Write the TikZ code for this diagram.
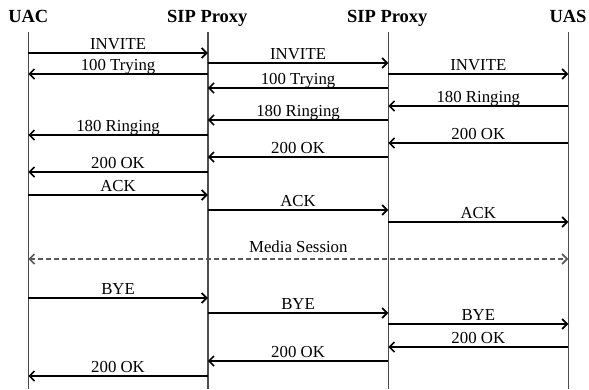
\documentclass[tikz,border=0pt]{standalone}
\usepackage{fontspec}
\setmainfont{Liberation Serif}
\usetikzlibrary{arrows.meta}
\newcommand\sipmsg[4]{\draw[msgline] (#1 |- 0,#3) -- node[lbl]{#4} (#2 |- 0,#3);}
\begin{document}
\begin{tikzpicture}[x=1pt,y=-1pt,
  hdr/.style={anchor=base,inner sep=0pt,font=\fontsize{18.5}{20}\selectfont\bfseries},
  lbl/.style={anchor=base,inner sep=0pt,yshift=4pt,font=\fontsize{16.8}{18}\selectfont},
  life/.style={draw=black!70,line width=1.4pt},
  msgline/.style={draw=black,line width=1.8pt,-{Straight Barb[length=5pt,width=10pt,line width=1.7pt]}},
  media/.style={draw=black!65,line width=1.8pt,dashed,dash pattern=on 5pt off 3pt,{Straight Barb[length=5pt,width=10pt,line width=1.7pt]}-{Straight Barb[length=5pt,width=10pt,line width=1.7pt]}}]
\useasboundingbox (0,0) rectangle (589,389);
\coordinate (uac) at (28.3,32);
\coordinate (pa) at (207.8,32);
\coordinate (pb) at (388.3,32);
\coordinate (uas) at (568.3,32);
\node[hdr] (uacH) at (28.3,22.7) {UAC};
\node[hdr] (paH) at (207.3,22.7) {SIP Proxy};
\node[hdr] (pbH) at (387.3,22.7) {SIP Proxy};
\node[hdr] (uasH) at (568,22.7) {UAS};
\foreach \l in {uac,pa,pb,uas} {\draw[life] (\l) -- (\l |- 0,389);}
\sipmsg{uac}{pa}{53}{INVITE}
\sipmsg{pa}{uac}{74}{100 Trying}
\sipmsg{pa}{pb}{63}{INVITE}
\sipmsg{pb}{uas}{74}{INVITE}
\sipmsg{pb}{pa}{88}{100 Trying}
\sipmsg{uas}{pb}{106}{180 Ringing}
\sipmsg{pb}{pa}{120}{180 Ringing}
\sipmsg{pa}{uac}{135}{180 Ringing}
\sipmsg{uas}{pb}{143}{200 OK}
\sipmsg{pb}{pa}{157}{200 OK}
\sipmsg{pa}{uac}{172}{200 OK}
\sipmsg{uac}{pa}{195}{ACK}
\sipmsg{pa}{pb}{210}{ACK}
\sipmsg{pb}{uas}{222}{ACK}
\draw[media] (uac |- 0,259) -- node[lbl,yshift=3pt]{Media Session} (uas |- 0,259);
\sipmsg{uac}{pa}{298}{BYE}
\sipmsg{pa}{pb}{313}{BYE}
\sipmsg{pb}{uas}{324}{BYE}
\sipmsg{uas}{pb}{347}{200 OK}
\sipmsg{pb}{pa}{361}{200 OK}
\sipmsg{pa}{uac}{376}{200 OK}
\end{tikzpicture}
\end{document}
